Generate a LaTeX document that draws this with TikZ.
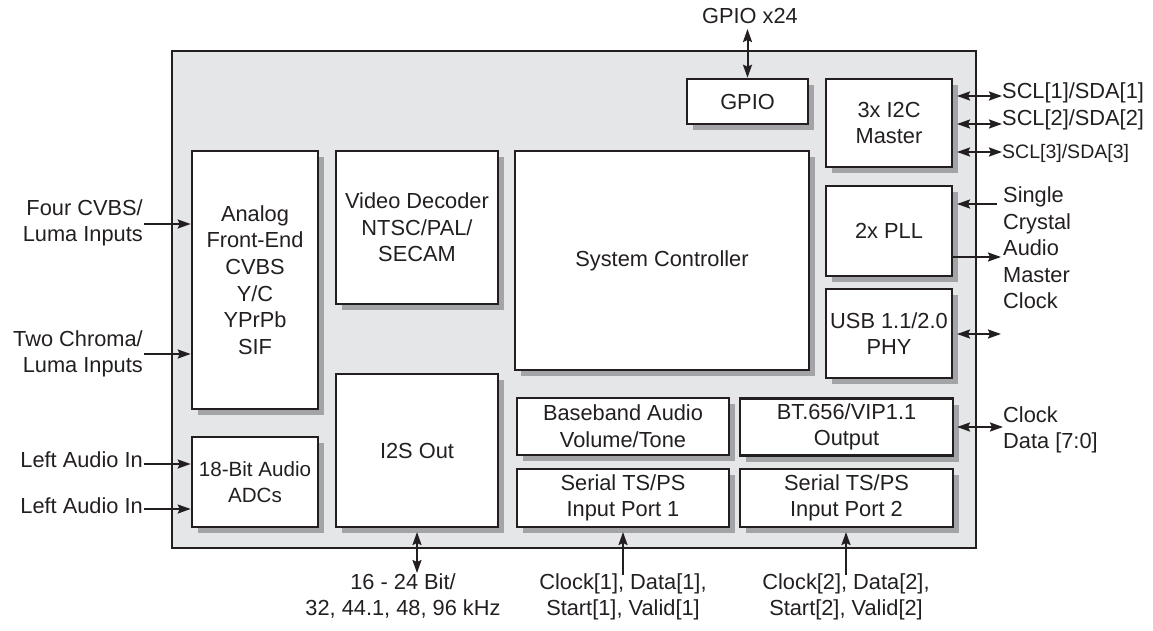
\documentclass[tikz,border=0pt]{standalone}
\usepackage{fontspec}
\setmainfont{Liberation Sans}
\usetikzlibrary{arrows.meta,shadows}
\definecolor{outerfill}{HTML}{E5E6E8}
\definecolor{shgray}{HTML}{A2A4A7}
\definecolor{ink}{HTML}{231F20}
\tikzset{
  blk/.style={draw=ink, fill=white, line width=2.6pt, inner sep=0pt, align=center,
    text=ink, font=\fontsize{21.8}{26.6}\selectfont,
    drop shadow={shadow xshift=6pt, shadow yshift=-6pt, fill=shgray, opacity=1}},
  lbl/.style={inner sep=0pt, text=ink, font=\fontsize{21.8}{26.6}\selectfont},
  sig/.style={draw=ink, line width=2pt, -{Stealth[length=13pt,width=9pt,inset=2pt]}},
  bsig/.style={draw=ink, line width=2pt, {Stealth[length=13pt,width=9pt,inset=2pt]}-{Stealth[length=13pt,width=9pt,inset=2pt]}},
}
\begin{document}
\begin{tikzpicture}[x=1pt,y=-1pt]
\useasboundingbox (0,0) rectangle (1153,631);
% outer chip
\draw[draw=ink, fill=outerfill, line width=2.6pt] (172,51) rectangle (976,548);
% blocks
\node[blk, minimum width=126pt, minimum height=258pt] (afe) at (255,280) {Analog\\Front-End\\CVBS\\Y/C\\YPrPb\\SIF};
\node[blk, minimum width=126pt, minimum height=90pt, font=\fontsize{20.6}{26.6}\selectfont] (adc) at (255,482) {18-Bit Audio\\ADCs};
\node[blk, minimum width=162pt, minimum height=153pt] (vdec) at (417,227.5) {Video Decoder\\NTSC/PAL/\\SECAM};
\node[blk, minimum width=162pt, minimum height=153pt] (i2s) at (417,450.5) {I2S Out};
\node[blk, minimum width=294pt, minimum height=219pt] (sys) at (662,260.5) {System Controller};
\node[blk, minimum width=121pt, minimum height=45pt] (gpio) at (747.5,101.5) {GPIO};
\node[blk, minimum width=126pt, minimum height=88pt] (i2c) at (889,123) {3x I2C\\Master};
\node[blk, minimum width=126pt, minimum height=90pt] (pll) at (889,231) {2x PLL};
\node[blk, minimum width=126pt, minimum height=89pt] (usb) at (889,333.5) {USB 1.1/2.0\\PHY};
\node[blk, minimum width=212pt, minimum height=57pt] (bb) at (623,426.5) {Baseband Audio\\Volume/Tone};
\node[blk, minimum width=213pt, minimum height=57pt] (bt) at (846.5,427) {BT.656/VIP1.1\\Output};
\node[blk, minimum width=212pt, minimum height=58pt] (ts1) at (623,498) {Serial TS/PS\\Input Port 1};
\node[blk, minimum width=213pt, minimum height=58pt] (ts2) at (846.5,498) {Serial TS/PS\\Input Port 2};

% GPIO
\node[lbl] (gpiol) at (750,16) {GPIO x24};
\coordinate (gpiot) at (747.5,29);
\draw[bsig] (gpiot) -- (gpio.north);

% I2C
\node[lbl, anchor=west] (scl1) at (1002,93) {SCL[1]/SDA[1]};
\node[lbl, anchor=west] (scl2) at (1002,120) {SCL[2]/SDA[2]};
\node[lbl, anchor=west, font=\fontsize{19.5}{24}\selectfont] (scl3) at (1002,153) {SCL[3]/SDA[3]};
\coordinate (i2ca) at (957,96);
\coordinate (i2cb) at (957,124);
\coordinate (i2cc) at (957,152);
\draw[bsig] (i2ca) -- (scl1.west |- i2ca);
\draw[bsig] (i2cb) -- (scl2.west |- i2cb);
\draw[bsig] (i2cc) -- (scl3.west |- i2cc);

% PLL
\node[lbl, anchor=west, align=left] (plll) at (1003,248) {Single\\Crystal\\Audio\\Master\\Clock};
\coordinate (pllin) at (997,204);
\coordinate (pllintip) at (957,204);
\draw[sig] (pllin) -- (pllintip);
\coordinate (pllout) at (pll.east |- 0,257);
\draw[sig] (pllout) -- (1001,257);

% USB
\coordinate (usba) at (957,334);
\coordinate (usbb) at (1001,334);
\draw[bsig] (usba) -- (usbb);

% BT.656
\node[lbl, anchor=west, align=left] (btl) at (1003,430) {Clock\\Data [7:0]};
\coordinate (bta) at (957,427);
\draw[bsig] (bta) -- (btl.west |- bta);

% left inputs
\node[lbl, anchor=east, align=right] (cvbs) at (143,223) {Four CVBS/\\Luma Inputs};
\node[lbl, anchor=east, align=right] (chroma) at (143,354) {Two Chroma/\\Luma Inputs};
\node[lbl, anchor=east] (laud1) at (143,460) {Left Audio In};
\node[lbl, anchor=east] (laud2) at (143,506) {Left Audio In};
\draw[sig] (144,224) -- (afe.west |- 0,224);
\draw[sig] (144,354) -- (afe.west |- 0,354);
\draw[sig] (144,464) -- (adc.west |- 0,464);
\draw[sig] (144,509) -- (adc.west |- 0,509);

% bottom
\node[lbl, align=center, anchor=north] (i2sl) at (403,573) {16 - 24 Bit/\\32, 44.1, 48, 96 kHz};
\node[lbl, align=center, anchor=north] (ts1l) at (623,573) {Clock[1], Data[1],\\Start[1], Valid[1]};
\node[lbl, align=center, anchor=north] (ts2l) at (846,573) {Clock[2], Data[2],\\Start[2], Valid[2]};
\coordinate (i2sb) at (417,573);
\coordinate (i2st) at (417,532);
\draw[bsig] (i2st) -- (i2sb);
\coordinate (ts1b) at (623,575);
\coordinate (ts1t) at (623,532);
\draw[sig] (ts1b) -- (ts1t);
\coordinate (ts2b) at (846,575);
\coordinate (ts2t) at (846,532);
\draw[sig] (ts2b) -- (ts2t);
\end{tikzpicture}
\end{document}
